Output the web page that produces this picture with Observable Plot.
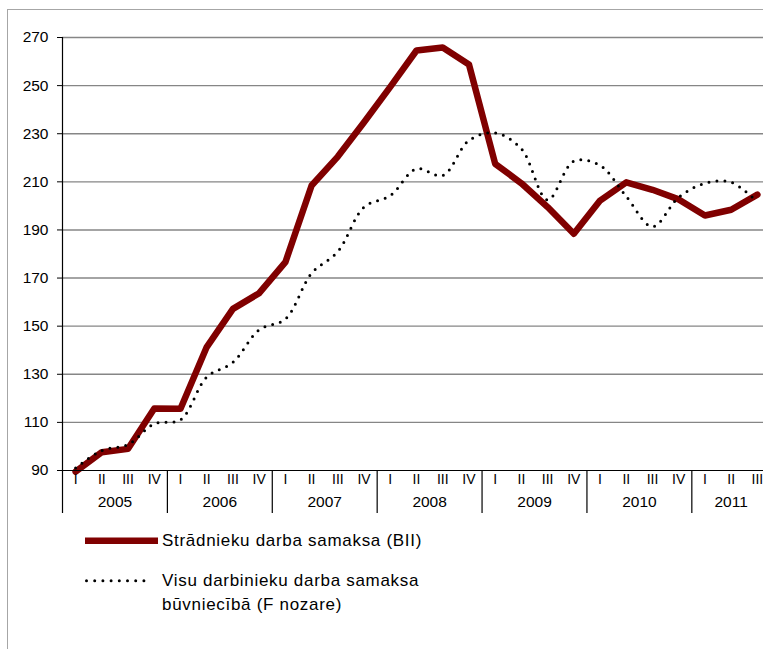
<!DOCTYPE html>
<html><head><meta charset="utf-8">
<script src="https://cdn.jsdelivr.net/npm/d3@7"></script>
<script src="https://cdn.jsdelivr.net/npm/@observablehq/plot@0.6"></script>
<style>
body{margin:0;background:#fff;font-family:"Liberation Sans",Arial,sans-serif;}
#wrap{position:relative;width:763px;height:649px;overflow:hidden;}
#frame{position:absolute;left:7px;top:9px;width:800px;height:700px;border:1.5px solid #a6a6a6;}
#chart{position:absolute;left:0;top:0;}
.leg{position:absolute;font-size:17px;letter-spacing:0.7px;color:#000;line-height:23.5px;display:flex;align-items:flex-start;}
.leg svg{flex:none;}
</style></head><body>
<div id="wrap"><div id="frame"></div><div id="chart"></div>
<div class="leg" style="left:85px;top:529px;"><svg width="77" height="23.5"><line x1="0" x2="73" y1="11.75" y2="11.75" stroke="#800000" stroke-width="6.5"/></svg><span id="l1"></span></div>
<div class="leg" style="left:85px;top:569px;"><svg width="77" height="23.5"><line x1="1.5" x2="67" y1="11.75" y2="11.75" stroke="#000" stroke-width="3" stroke-linecap="round" stroke-dasharray="0 8.2"/></svg><span id="l2"></span></div>
</div>
<script>
const years = ["2005","2006","2007","2008","2009","2010","2011"];
const quarterLabels = ["I","II","III","IV"];
const seriesNames = ["Strādnieku darba samaksa (BII)", "Visu darbinieku darba samaksa", "būvniecībā (F nozare)"];
const yTicks = [90,110,130,150,170,190,210,230,250,270];
const bii = [89.5, 97.6, 99, 115.8, 115.7, 141.3, 157.2, 163.7, 176.6, 208.5, 220.5, 234.8, 249.5, 264.6, 265.8, 258.8, 217.5, 209.4, 199.5, 188.4, 202.2, 209.8, 206.7, 202.7, 196, 198.4, 204.7];
const fNozare = [91, 98.3, 100.8, 109.4, 111.1, 128.8, 135, 148.5, 153, 172, 181, 199.5, 204.3, 215.4, 212.6, 227.2, 230.3, 223.7, 202.5, 218.6, 216.8, 203.9, 191.4, 203.6, 209.4, 209.8, 201.6];

document.getElementById("l1").textContent = seriesNames[0];
document.getElementById("l2").innerHTML = seriesNames[1] + "<br>" + seriesNames[2];

const n = bii.length;
const biiData = bii.map((v,i)=>({i, v}));
const fData = fNozare.map((v,i)=>({i, v}));
const yearData = years.map((y,k)=>{
  const idx = d3.range(k*4, Math.min(k*4+4, n));
  return {y, c: d3.mean(idx)};
});
const boundaries = years.map((y,k)=>k*4-0.5);

const plot = Plot.plot({
  width: 763, height: 520,
  marginLeft: 62, marginRight: 0, marginTop: 37, marginBottom: 50,
  style: {fontFamily: "Liberation Sans, Arial, sans-serif", background: "transparent", color: "#000"},
  x: {domain: [-0.5, 26.5], range: [62, 770]},
  y: {domain: [90, 270]},
  marks: [
    Plot.ruleY(yTicks.filter(d=>d>90), {stroke: "#868686", strokeWidth: 1.4}),
    Plot.line(biiData, {x: "i", y: "v", stroke: "#800000", strokeWidth: 6.5, strokeLinejoin: "round"}),
    Plot.line(fData, {x: "i", y: "v", stroke: "#000", strokeWidth: 3, strokeLinecap: "round", strokeDasharray: "0 8", curve: "catmull-rom"}),
    Plot.ruleY([90], {stroke: "#000", strokeWidth: 1.2}),
    Plot.ruleX([-0.5], {y1: 90, y2: 270, stroke: "#000", strokeWidth: 1.2}),
    Plot.axisY({ticks: yTicks, tickSize: 5, tickPadding: 9, fontSize: 15.5, label: null, tickFormat: d=>String(d)}),
    Plot.axisX({ticks: d3.range(n), tickSize: 0, tickPadding: 4, fontSize: 14, label: null, tickFormat: i=>quarterLabels[i%4]}),
    Plot.axisX({ticks: boundaries, tickSize: 43, label: null, tickFormat: ()=>"", strokeWidth: 1.2}),
    Plot.text(yearData, {x: "c", text: "y", frameAnchor: "bottom", dy: 32, fontSize: 15.5, lineAnchor: "middle"})
  ]
});
document.getElementById("chart").appendChild(plot);
</script>
</body></html>
